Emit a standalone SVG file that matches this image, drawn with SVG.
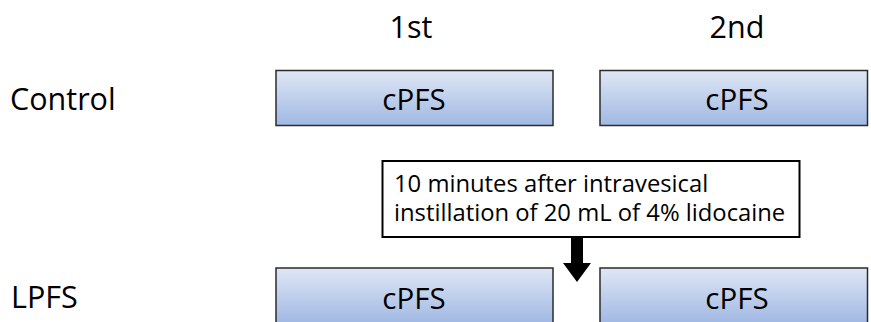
<svg xmlns="http://www.w3.org/2000/svg" width="871" height="322" viewBox="0 0 871 322">
  <defs>
    <linearGradient id="boxFill" x1="0" y1="0" x2="0" y2="1">
      <stop offset="0" stop-color="#dfe7f5"/>
      <stop offset="1" stop-color="#a0b8e3"/>
    </linearGradient>
    <style>
      .lbl { font-family: "Open Sans", "Liberation Sans", sans-serif; font-size: 30.5px; fill: #000; }
      .box { fill: url(#boxFill); stroke: #2b2b2b; stroke-width: 1.5; }
      .btxt { font-family: "Open Sans", "Liberation Sans", sans-serif; font-size: 29.5px; fill: #000; text-anchor: middle; }
      .note { fill: #fff; stroke: #000; stroke-width: 2; }
      .ntxt { font-family: "Open Sans", "Liberation Sans", sans-serif; font-size: 23.8px; fill: #000; }
    </style>
  </defs>
  <rect width="871" height="322" fill="#fff"/>

  <text class="lbl" x="411" y="38" text-anchor="middle">1st</text>
  <text class="lbl" x="737" y="38" text-anchor="middle">2nd</text>
  <text class="lbl" x="10" y="110">Control</text>
  <text class="lbl" x="11" y="308">LPFS</text>

  <g id="control-1">
    <rect class="box" x="276" y="70.5" width="277" height="55"/>
    <text class="btxt" x="414" y="110">cPFS</text>
  </g>
  <g id="control-2">
    <rect class="box" x="600" y="70.5" width="267.5" height="55"/>
    <text class="btxt" x="737" y="110">cPFS</text>
  </g>
  <g id="lpfs-1">
    <rect class="box" x="276" y="268" width="277" height="56"/>
    <text class="btxt" x="414" y="309">cPFS</text>
  </g>
  <g id="lpfs-2">
    <rect class="box" x="600" y="268" width="267.5" height="56"/>
    <text class="btxt" x="737" y="309">cPFS</text>
  </g>
  <g id="note">
    <rect class="note" x="382.5" y="161" width="417" height="76"/>
    <text class="ntxt" x="394" y="192">10 minutes after intravesical</text>
    <text class="ntxt" x="394" y="221">instillation of 20 mL of 4% lidocaine</text>
  </g>

  <g id="connectors">
    <polygon points="571,238 583,238 583,263 591,263 577,282 563,263 571,263" fill="#000"/>
  </g>
</svg>
